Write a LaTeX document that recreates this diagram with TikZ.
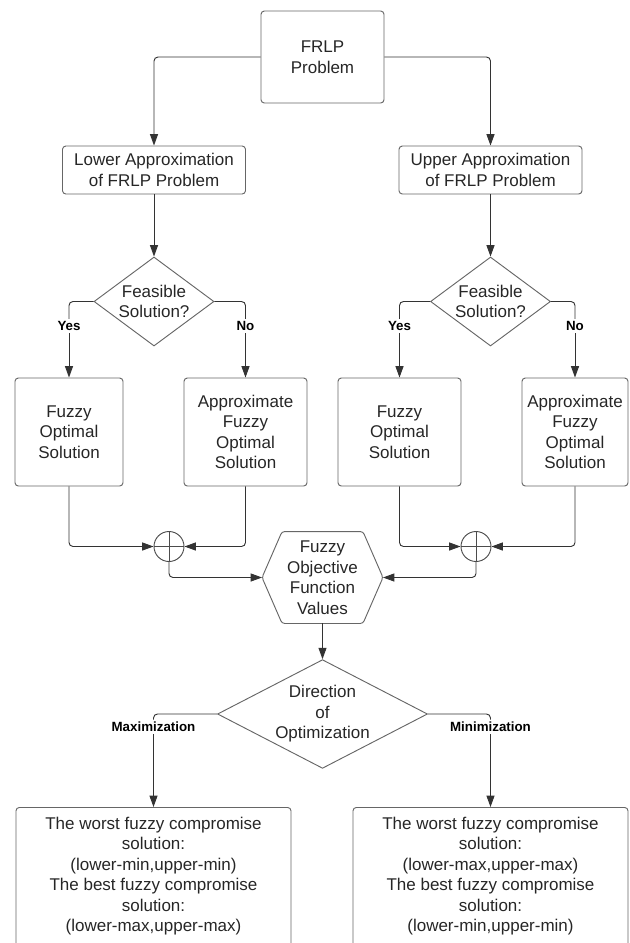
\documentclass[tikz,border=0pt]{standalone}
\usepackage{fontspec}
\setmainfont{Liberation Sans}
\usetikzlibrary{arrows.meta,shapes.geometric}

\begin{document}
\begin{tikzpicture}[
    x=0.75pt, y=-0.75pt, line width=0.7pt,
    font=\fontsize{12.75}{15.4}\selectfont,
    blk/.style={draw=black!60, rounded corners=2.5pt, align=center, inner sep=2pt, text=black!85},
    dia/.style={draw=black!60, diamond, align=center, inner sep=-8pt, text=black!85},
    lbl/.style={font=\bfseries\fontsize{10}{12}\selectfont, inner sep=1.5pt},
    sum/.style={circle, draw=black!70, minimum size=22.5pt, inner sep=0pt,
      path picture={\draw[black!70] (path picture bounding box.north) -- (path picture bounding box.south)
        (path picture bounding box.west) -- (path picture bounding box.east);}},
    lin/.style={draw=black!80, rounded corners=3pt},
    arr/.style={lin, -{Triangle[length=8.5pt,width=6pt]}}
  ]
  \useasboundingbox (0,0) rectangle (630,943);
  \clip (0,0) rectangle (630,943);

  % top part
  \node[blk, minimum width=92.25pt, minimum height=69pt] (frlp) at (322.5,57) {FRLP\\Problem};
  \node[blk, minimum width=137.25pt, minimum height=36pt] (lowA) at (154,170) {Lower Approximation\\of FRLP Problem};
  \node[blk, minimum width=137.25pt, minimum height=36pt] (upA) at (490.5,170) {Upper Approximation\\of FRLP Problem};
  \node[dia, minimum width=90pt, minimum height=66.75pt] (feasL) at (154,301.5) {Feasible\\Solution?};
  \node[dia, minimum width=90pt, minimum height=66.75pt] (feasR) at (490.5,301.5) {Feasible\\Solution?};
  \node[lbl] (yesL) at (69,326) {Yes};
  \node[lbl] (noL) at (245.5,326) {No};
  \node[lbl] (yesR) at (399.5,326) {Yes};
  \node[lbl] (noR) at (575,326) {No};

  % solutions
  \node[blk, minimum width=81pt, minimum height=81pt] (fuzL) at (69,432) {Fuzzy\\Optimal\\Solution};
  \node[blk, minimum width=92.25pt, minimum height=81pt] (apxL) at (245.5,432) {Approximate\\Fuzzy\\Optimal\\Solution};
  \node[blk, minimum width=92.25pt, minimum height=81pt] (fuzR) at (399.5,432) {Fuzzy\\Optimal\\Solution};
  \node[blk, minimum width=79.5pt, minimum height=81pt] (apxR) at (575,432) {Approximate\\Fuzzy\\Optimal\\Solution};
  \node[sum] (sumL) at (169,546.5) {};
  \node[sum] (sumR) at (476,546.5) {};
  \node[minimum width=90pt, minimum height=68.25pt, align=center, inner sep=0pt, text=black!85] (fov) at (322.5,577.5) {Fuzzy\\Objective\\Function\\Values};
  \draw[black!60, rounded corners=2pt] (fov.west) -- ([xshift=15pt]fov.north west) -- ([xshift=-15pt]fov.north east)
    -- (fov.east) -- ([xshift=-15pt]fov.south east) -- ([xshift=15pt]fov.south west) -- cycle;

  % bottom part
  \node[dia, minimum width=157.5pt, minimum height=67.5pt] (dir) at (322.5,714) {Direction\\of\\Optimization};
  \node[lbl] (maxL) at (153.5,727) {Maximization};
  \node[lbl] (minL) at (490.5,727) {Minimization};
  \node[blk, anchor=north, minimum width=206.25pt, inner ysep=7pt, text depth=14pt] (resMax) at (153.5,807)
    {The worst fuzzy compromise\\solution:\\(lower-min,upper-min)\\The best fuzzy compromise\\solution:\\(lower-max,upper-max)};
  \node[blk, anchor=north, minimum width=206.25pt, inner ysep=7pt, text depth=14pt] (resMin) at (490.5,807)
    {The worst fuzzy compromise\\solution:\\(lower-max,upper-max)\\The best fuzzy compromise\\solution:\\(lower-min,upper-min)};

  \draw[arr] (frlp.west) -| (lowA.north);
  \draw[arr] (frlp.east) -| (upA.north);
  \draw[arr] (lowA) -- (feasL);
  \draw[arr] (upA) -- (feasR);
  \draw[lin] (feasL.west) -| (yesL.north);
  \draw[lin] (feasL.east) -| (noL.north);
  \draw[lin] (feasR.west) -| (yesR.north);
  \draw[lin] (feasR.east) -| (noR.north);
  \draw[arr] (yesL) -- (fuzL);
  \draw[arr] (noL) -- (apxL);
  \draw[arr] (yesR) -- (fuzR);
  \draw[arr] (noR) -- (apxR);
  \draw[arr] (fuzL.south) |- (sumL.west);
  \draw[arr] (apxL.south) |- (sumL.east);
  \draw[arr] (fuzR.south) |- (sumR.west);
  \draw[arr] (apxR.south) |- (sumR.east);
  \draw[arr] (sumL.south) |- (fov.west);
  \draw[arr] (sumR.south) |- (fov.east);
  \draw[arr] (fov) -- (dir);
  \draw[lin] (dir.west) -| (maxL.north);
  \draw[lin] (dir.east) -| (minL.north);
  \draw[arr] (maxL) -- (resMax);
  \draw[arr] (minL) -- (resMin);
\end{tikzpicture}
\end{document}
